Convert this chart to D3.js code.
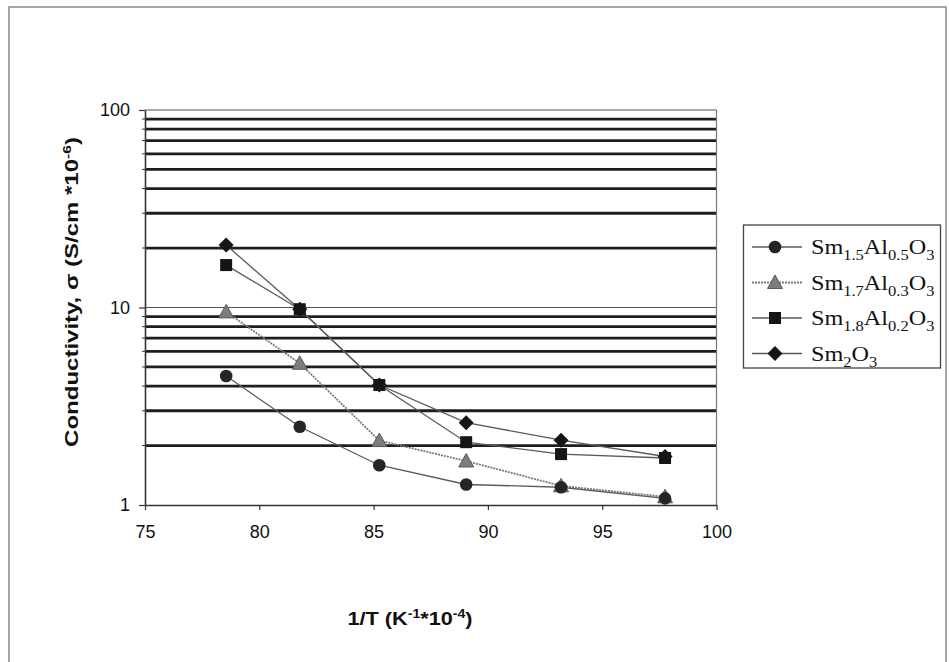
<!DOCTYPE html>
<html>
<head>
<meta charset="utf-8">
<script src="https://cdn.jsdelivr.net/npm/d3@7"></script>
<style>
  html, body { margin: 0; padding: 0; background: #fff; }
  svg { display: block; }
</style>
</head>
<body>
<svg id="chart" width="949" height="662"></svg>
<script>
// 1/T values (K^-1 * 10^-4)
const invT = [78.55, 81.77, 85.25, 89.05, 93.20, 97.75];

// Conductivity (S/cm * 10^-6) for each composition
const sm15al05 = [4.5, 2.49, 1.59, 1.27, 1.23, 1.08];
const sm17al03 = [9.5, 5.22, 2.12, 1.67, 1.25, 1.10];
const sm18al02 = [16.4, 9.8, 4.05, 2.08, 1.81, 1.73];
const sm2o3    = [20.7, 9.8, 4.05, 2.61, 2.13, 1.76];

// Legend labels as [text, isSubscript] pieces
const labelSm15 = [["Sm", 0], ["1.5", 1], ["Al", 0], ["0.5", 1], ["O", 0], ["3", 1]];
const labelSm17 = [["Sm", 0], ["1.7", 1], ["Al", 0], ["0.3", 1], ["O", 0], ["3", 1]];
const labelSm18 = [["Sm", 0], ["1.8", 1], ["Al", 0], ["0.2", 1], ["O", 0], ["3", 1]];
const labelSm2  = [["Sm", 0], ["2", 1], ["O", 0], ["3", 1]];

const xTicks = [75, 80, 85, 90, 95, 100];
const yMajor = [1, 10, 100];
const yMinor = [2, 3, 4, 5, 6, 7, 8, 9, 20, 30, 40, 50, 60, 70, 80, 90];

const series = [
  { name: "Sm2O3",        values: sm2o3,    label: labelSm2,  marker: "diamond",  line: "#5a5a5a", dash: null },
  { name: "Sm1.8Al0.2O3", values: sm18al02, label: labelSm18, marker: "square",   line: "#5a5a5a", dash: null },
  { name: "Sm1.7Al0.3O3", values: sm17al03, label: labelSm17, marker: "triangle", line: "#7a7a7a", dash: "2,1" },
  { name: "Sm1.5Al0.5O3", values: sm15al05, label: labelSm15, marker: "circle",   line: "#5a5a5a", dash: null }
];
const legendOrder = ["Sm1.5Al0.5O3", "Sm1.7Al0.3O3", "Sm1.8Al0.2O3", "Sm2O3"];

const svg = d3.select("#chart");
const plot = { left: 145, right: 716.5, top: 110, bottom: 505 };

const x = d3.scaleLinear().domain([75, 100]).range([plot.left, plot.right]);
const y = d3.scaleLog().domain([1, 100]).range([plot.bottom, plot.top]);

// outer frame
svg.append("rect")
  .attr("x", 9).attr("y", 7).attr("width", 937).attr("height", 720)
  .attr("fill", "none").attr("stroke", "#8a8a8a").attr("stroke-width", 1.5);

// gridlines: minor ones heavy, decade ones light
svg.append("g").selectAll("line").data(yMinor).join("line")
  .attr("x1", plot.left).attr("x2", plot.right)
  .attr("y1", d => y(d)).attr("y2", d => y(d))
  .attr("stroke", "#1e1e1e").attr("stroke-width", 2.8);
svg.append("g").selectAll("line").data(yMajor.filter(d => d > 1)).join("line")
  .attr("x1", plot.left).attr("x2", plot.right)
  .attr("y1", d => y(d)).attr("y2", d => y(d))
  .attr("stroke", "#555").attr("stroke-width", 1.2);

// right border of the plot area
svg.append("line")
  .attr("x1", plot.right).attr("x2", plot.right)
  .attr("y1", plot.top).attr("y2", plot.bottom)
  .attr("stroke", "#777").attr("stroke-width", 1.2);

// x axis
const xAxis = svg.append("g")
  .attr("transform", `translate(0,${plot.bottom})`)
  .call(d3.axisBottom(x).tickValues(xTicks).tickSize(5).tickSizeOuter(0).tickPadding(15));
xAxis.select(".domain").attr("stroke", "#333").attr("stroke-width", 1.6);
xAxis.selectAll(".tick line").attr("stroke", "#333").attr("stroke-width", 1.2);
xAxis.selectAll(".tick text")
  .attr("font-family", "Liberation Sans, Arial, sans-serif")
  .attr("font-size", 18).attr("fill", "#111");

// y axis
const yAxis = svg.append("g")
  .attr("transform", `translate(${plot.left},0)`)
  .call(d3.axisLeft(y).tickValues(yMajor).tickFormat(d3.format("d")).tickSize(6).tickSizeOuter(0).tickPadding(9));
yAxis.select(".domain").attr("stroke", "#333").attr("stroke-width", 1.6);
yAxis.selectAll(".tick line").attr("stroke", "#333").attr("stroke-width", 1.2);
yAxis.selectAll(".tick text")
  .attr("font-family", "Liberation Sans, Arial, sans-serif")
  .attr("font-size", 18).attr("fill", "#111");
svg.append("g").selectAll("line").data(yMinor).join("line")
  .attr("x1", plot.left - 3).attr("x2", plot.left)
  .attr("y1", d => y(d)).attr("y2", d => y(d))
  .attr("stroke", "#333").attr("stroke-width", 1);

// marker shapes
function drawMarker(g, type) {
  if (type === "circle") {
    g.append("circle").attr("r", 6.3).attr("fill", "#252525");
  } else if (type === "triangle") {
    g.append("path").attr("d", "M0,-7.5L7.5,6L-7.5,6Z")
      .attr("fill", "#7d7d7d").attr("stroke", "#5a5a5a").attr("stroke-width", 1);
  } else if (type === "square") {
    g.append("rect").attr("x", -6).attr("y", -6).attr("width", 12).attr("height", 12)
      .attr("fill", "#151515");
  } else if (type === "diamond") {
    g.append("path").attr("d", "M0,-7.5L7.5,0L0,7.5L-7.5,0Z").attr("fill", "#151515");
  }
}

const line = d3.line().x((d, i) => x(invT[i])).y(d => y(d));

series.forEach(s => {
  svg.append("path")
    .datum(s.values)
    .attr("d", line)
    .attr("fill", "none")
    .attr("stroke", s.line)
    .attr("stroke-width", s.marker === "triangle" ? 1.8 : 1.3)
    .attr("stroke-dasharray", s.dash);
  svg.append("g").selectAll("g").data(s.values).join("g")
    .attr("transform", (d, i) => `translate(${x(invT[i])},${y(d)})`)
    .each(function () { drawMarker(d3.select(this), s.marker); });
});

// legend
const legend = svg.append("g");
legend.append("rect")
  .attr("x", 743.5).attr("y", 225).attr("width", 197).attr("height", 143)
  .attr("fill", "#fff").attr("stroke", "#444").attr("stroke-width", 1.3);
legendOrder.forEach((name, k) => {
  const s = series.find(t => t.name === name);
  const ly = 247 + k * 35.5;
  legend.append("line")
    .attr("x1", 752).attr("x2", 802).attr("y1", ly).attr("y2", ly)
    .attr("stroke", s.line).attr("stroke-width", s.marker === "triangle" ? 1.8 : 1.3)
    .attr("stroke-dasharray", s.dash);
  drawMarker(legend.append("g").attr("transform", `translate(775,${ly})`), s.marker);
  const t = legend.append("text")
    .attr("x", 0).attr("y", 0)
    .attr("transform", `translate(811,${ly + 7}) scale(1.1,1)`)
    .attr("font-family", "Liberation Serif, Times New Roman, serif")
    .attr("font-size", 22).attr("fill", "#111");
  s.label.forEach(([txt, sub], j) => {
    const prevSub = j > 0 ? s.label[j - 1][1] : 0;
    t.append("tspan")
      .attr("dy", sub && !prevSub ? 6 : (!sub && prevSub ? -6 : 0))
      .attr("font-size", sub ? 15 : 22)
      .text(txt);
  });
});

// axis titles
function addTitle(parts, tx, ty, rot, size, targetLen) {
  const g = svg.append("g").attr("transform", `translate(${tx},${ty}) rotate(${rot})`);
  const t = g.append("text")
    .attr("text-anchor", "middle")
    .attr("font-family", "Liberation Sans, Arial, sans-serif")
    .attr("font-weight", "bold").attr("font-size", size).attr("fill", "#111");
  parts.forEach(([txt, sup], j) => {
    const prevSup = j > 0 ? parts[j - 1][1] : 0;
    t.append("tspan")
      .attr("dy", sup && !prevSup ? -7 : (!sup && prevSup ? 7 : 0))
      .attr("font-size", sup ? size * 0.65 : size)
      .text(txt);
  });
  if (targetLen) {
    const len = t.node().getComputedTextLength();
    t.attr("transform", `scale(${targetLen / len},1)`);
  }
}
addTitle([["1/T (K", 0], ["-1", 1], ["*10", 0], ["-4", 1], [")", 0]], 410, 625, 0, 19, 125);
addTitle([["Conductivity, σ (S/cm *10", 0], ["-6", 1], [")", 0]], 78, 292, -90, 18, 310);
</script>
</body>
</html>
